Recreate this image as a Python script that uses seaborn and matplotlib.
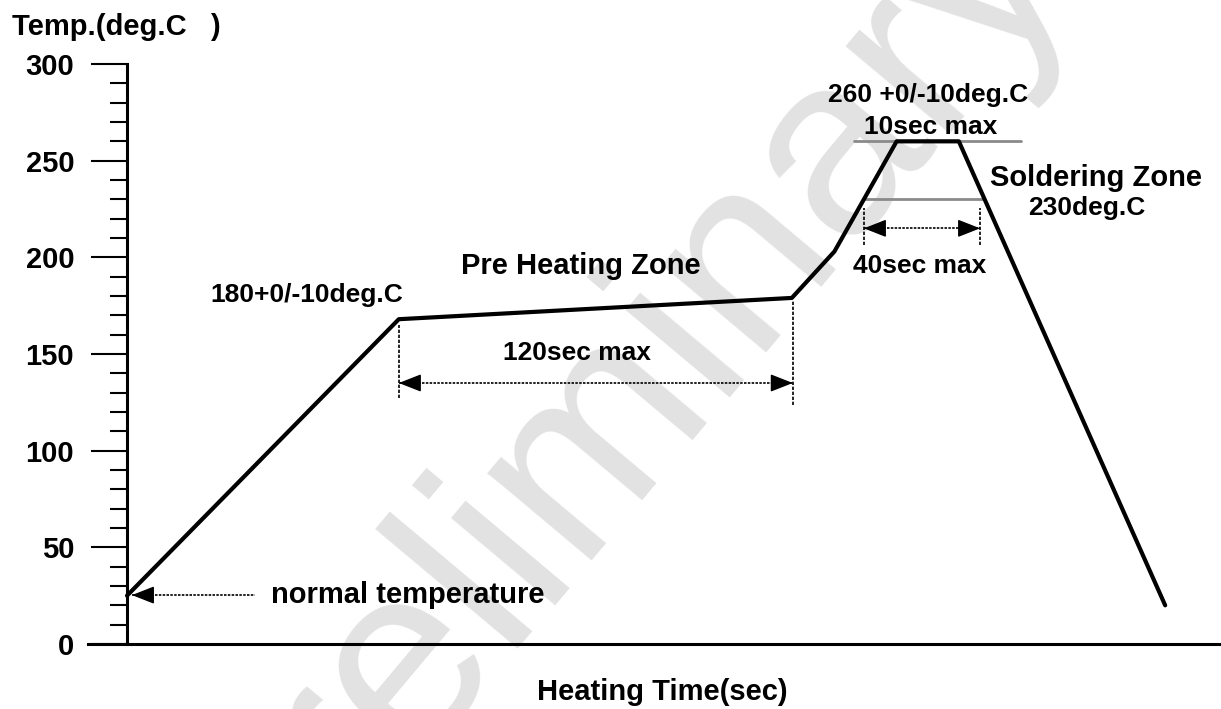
import numpy as np
import pandas as pd
import matplotlib
matplotlib.use("Agg")
import matplotlib.pyplot as plt
import seaborn as sns

# reflow profile (time in s, temperature in deg.C)
time_s = [0, 83, 203, 216, 235, 254, 317]
temp_c = [25, 168, 179, 203, 260, 260, 20]

# grey reference levels: (level, x start, x end)
peak_level = [260, 222, 273]
solder_level = [230, 225, 261.6]

# dimension arrows: (y, x left, x right)
preheat_span = [135, 83, 203.3]
solder_span = [215, 225, 260.5]
normal_temp = [25.3, 1.5, 39]

y_ticks = [0, 50, 100, 150, 200, 250, 300]

sns.set_theme(style="white")
plt.rcParams["font.family"] = ["Liberation Sans", "DejaVu Sans"]
plt.rcParams["font.weight"] = "bold"
plt.rcParams["text.color"] = "black"
plt.rcParams["ytick.color"] = "black"
plt.rcParams["axes.labelcolor"] = "black"


def dim_arrow(ax, y, x0, x1, both=True):
    # dotted shaft with solid triangular heads
    ax.plot([x0, x1], [y, y], color="black", lw=1.2, ls=(0, (1.5, 0.8)), zorder=3)
    head = dict(arrowstyle="-|>,head_length=1.4,head_width=0.55", color="black",
                lw=1, shrinkA=0, shrinkB=0, mutation_scale=10)
    ax.annotate("", xy=(x0, y), xytext=(x0 + 3, y), arrowprops=head, zorder=4)
    if both:
        ax.annotate("", xy=(x1, y), xytext=(x1 - 3, y), arrowprops=head, zorder=4)


def main():
    fig = plt.figure(figsize=(12.21, 7.09), dpi=100)
    ax = fig.add_axes([88 / 1221, 65 / 709, 1 - 88 / 1221, 580 / 709])
    ax.patch.set_alpha(0)

    # watermark
    fig.text(606 / 1221, 1 - 416 / 709, "Preliminary", fontsize=185,
             fontweight="normal", color="#e2e2e2", rotation=50,
             ha="center", va="center", zorder=-5)

    df = pd.DataFrame({"time": time_s, "temp": temp_c})
    sns.lineplot(data=df, x="time", y="temp", color="black", lw=3,
                 sort=False, ax=ax, zorder=5)

    # grey level lines
    for lvl in (peak_level, solder_level):
        ax.plot([lvl[1], lvl[2]], [lvl[0], lvl[0]], color="#8a8a8a", lw=2, zorder=2)

    # dashed extension lines
    vdash = dict(color="black", lw=1.2, ls=(0, (2, 1)), zorder=3)
    ax.plot([83, 83], [127, 165], **vdash)
    ax.plot([203.3, 203.3], [123.6, 178], **vdash)
    ax.plot([225, 225], [206.4, 225.5], **vdash)
    ax.plot([260.5, 260.5], [206.4, 225.5], **vdash)

    dim_arrow(ax, *preheat_span)
    dim_arrow(ax, *solder_span)
    dim_arrow(ax, *normal_temp, both=False)

    big, small = 21, 19
    ax.text(55, 180.5, "180+0/-10deg.C", fontsize=small, ha="center", va="center")
    ax.text(138.6, 195.5, "Pre Heating Zone", fontsize=big, ha="center", va="center")
    ax.text(137.4, 150.5, "120sec max", fontsize=small, ha="center", va="center")
    ax.text(244.6, 284, "260 +0/-10deg.C", fontsize=small, ha="center", va="center")
    ax.text(245.5, 267.4, "10sec max", fontsize=small, ha="center", va="center")
    ax.text(295.9, 241, "Soldering Zone", fontsize=big, ha="center", va="center")
    ax.text(293.1, 225.5, "230deg.C", fontsize=small, ha="center", va="center")
    ax.text(242.1, 195.5, "40sec max", fontsize=small, ha="center", va="center")
    ax.text(44, 25.3, "normal temperature", fontsize=big, ha="left", va="center")

    ax.set_xlim(-39 / 3.275, (1221 - 127) / 3.275)
    ax.set_ylim(0, 300)

    ax.spines["top"].set_visible(False)
    ax.spines["right"].set_visible(False)
    ax.spines["left"].set_position(("data", 0))
    ax.spines["left"].set_linewidth(2.2)
    ax.spines["bottom"].set_linewidth(2.2)
    for s in ("left", "bottom"):
        ax.spines[s].set_color("black")

    ax.set_xticks([])
    ax.set_yticks(y_ticks)
    ax.set_yticks(np.arange(0, 301, 10), minor=True)
    ax.set_yticklabels([str(v) for v in y_ticks], fontsize=big,
                       fontweight="bold", color="black")
    ax.tick_params(axis="y", which="major", direction="out", length=26,
                   width=1.5, pad=12, color="black", left=True)
    ax.tick_params(axis="y", which="minor", direction="out", length=12,
                   width=1.5, color="black", left=True)
    ax.set_xlabel("")
    ax.set_ylabel("")

    fig.text(12 / 1221, 1 - 27 / 709, "Temp.(deg.C   )", fontsize=big,
             fontweight="bold", ha="left", va="center")
    fig.text(662 / 1221, 1 - 692 / 709, "Heating Time(sec)", fontsize=big,
             fontweight="bold", ha="center", va="center")

    fig.savefig("out.png", dpi=100)


if __name__ == "__main__":
    main()
